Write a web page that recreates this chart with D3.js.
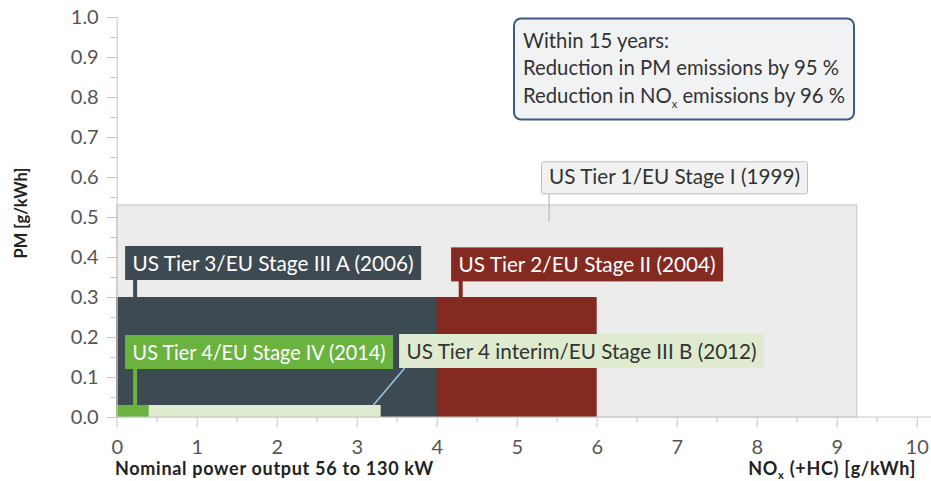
<!DOCTYPE html>
<html>
<head>
<meta charset="utf-8">
<script src="https://cdn.jsdelivr.net/npm/d3@7"></script>
<style>
  body { margin: 0; background: #fff; }
  svg { display: block; }
</style>
</head>
<body>
<svg id="chart" width="931" height="481"></svg>
<script>
// emission limits, 56-130 kW
let stages = ['US Tier 1/EU Stage I (1999)', 'US Tier 2/EU Stage II (2004)', 'US Tier 3/EU Stage III A (2006)',
              'US Tier 4 interim/EU Stage III B (2012)', 'US Tier 4/EU Stage IV (2014)'];
let noxLimit = [9.25, 6.0, 4.0, 3.3, 0.4];
let pmLimit = [0.53, 0.3, 0.3, 0.03, 0.03];
let xTicks = [0, 1, 2, 3, 4, 5, 6, 7, 8, 9, 10];
let yTicks = [0, 0.1, 0.2, 0.3, 0.4, 0.5, 0.6, 0.7, 0.8, 0.9, 1.0];

// look + where the labels sit (in data units)
let fills = ['#ececec', '#842a20', '#3e4a52', '#deebcf', '#6ab33e'];
let strokes = ['#c6c6c6', 'none', 'none', 'none', 'none'];
let labelFill = ['#f1f1f1', '#842a20', '#3e4a52', '#deebcf', '#6ab33e'];
let labelText = ['#333', '#fff', '#fff', '#333', '#fff'];
let labelPos = [[5.31, 0.638], [4.18, 0.424], [0.105, 0.4275], [3.53, 0.2075], [0.105, 0.205]];
let labelWidth = [251, 257, 281, 350, 253];
let leader = [[5.405, 0.638, 5.405, 0.488], [4.3, 0.42, 4.3, 0.3], [0.23, 0.42, 0.23, 0.3],
              [3.6, 0.1225, 3.21, 0.03], [0.23, 0.2, 0.23, 0.03]];

const svg = d3.select('#chart');
const font = 'Lato, "Noto Sans", sans-serif';

const x = d3.scaleLinear().domain([0, 10]).range([116.7, 916.7]);
const y = d3.scaleLinear().domain([0, 1]).range([417, 17]);

// rectangles
svg.append('g')
  .selectAll('rect')
  .data(stages)
  .join('rect')
  .attr('x', x(0))
  .attr('y', (d, i) => y(pmLimit[i]))
  .attr('width', (d, i) => x(noxLimit[i]) - x(0))
  .attr('height', (d, i) => y(0) - y(pmLimit[i]))
  .attr('fill', (d, i) => fills[i])
  .attr('stroke', (d, i) => strokes[i])
  .attr('stroke-width', 1);

// y axis
const yAxis = svg.append('g')
  .attr('transform', `translate(${x(0)},0)`)
  .call(d3.axisLeft(y).tickValues(yTicks).tickFormat(d3.format('.1f')).tickSize(10).tickPadding(8));
svg.append('g')
  .attr('transform', `translate(${x(0)},0)`)
  .call(d3.axisLeft(y).tickValues(d3.range(0.05, 1, 0.1)).tickFormat('').tickSize(6))
  .select('.domain').remove();

// x axis
const xAxis = svg.append('g')
  .attr('transform', `translate(0,${y(0)})`)
  .call(d3.axisBottom(x).tickValues(xTicks).tickFormat(d3.format('d')).tickSize(10).tickPadding(13));
svg.append('g')
  .attr('transform', `translate(0,${y(0)})`)
  .call(d3.axisBottom(x).tickValues(d3.range(0.5, 10, 1)).tickFormat('').tickSize(5))
  .select('.domain').remove();
xAxis.select('.domain').remove();
svg.append('line')
  .attr('x1', x(0)).attr('x2', 931)
  .attr('y1', y(0)).attr('y2', y(0))
  .attr('stroke', '#c8c8c8');

svg.selectAll('.tick line').attr('stroke', '#c4c4c4');
yAxis.select('.domain').attr('stroke', '#c8c8c8');
svg.selectAll('.tick text')
  .style('font-family', font)
  .style('font-size', '20px')
  .attr('fill', '#555');

// leader lines
leader.forEach((l, i) => {
  svg.append('line')
    .attr('x1', x(l[0])).attr('y1', y(l[1]))
    .attr('x2', x(l[2])).attr('y2', y(l[3]))
    .attr('stroke', i == 0 ? '#b0b0b0' : i == 3 ? '#9cc8e2' : fills[i])
    .attr('stroke-width', i == 0 ? 1 : i == 3 ? 1.5 : 4);
});

// stage labels
stages.forEach((s, i) => {
  const g = svg.append('g');
  const h = i == 0 ? 32 : 34;
  const bx = x(labelPos[i][0]), by = y(labelPos[i][1]);
  g.append('rect')
    .attr('x', bx).attr('y', by)
    .attr('width', labelWidth[i] + 15)
    .attr('height', h)
    .attr('rx', i == 0 ? 2 : 0)
    .attr('fill', labelFill[i])
    .attr('stroke', i == 0 ? '#bdbdbd' : 'none');
  g.append('text')
    .attr('x', bx + 7.5).attr('y', by + h - 9.5)
    .attr('textLength', labelWidth[i])
    .attr('lengthAdjust', 'spacingAndGlyphs')
    .style('font-family', font)
    .style('font-size', '20.4px')
    .attr('fill', labelText[i])
    .text(s);
});

// info box
svg.append('rect')
  .attr('x', 514).attr('y', 18.5)
  .attr('width', 340).attr('height', 101)
  .attr('rx', 7)
  .attr('fill', '#f1f2f4')
  .attr('stroke', '#3d5b82')
  .attr('stroke-width', 2);
const info = svg.append('text')
  .attr('x', 523)
  .style('font-family', font)
  .style('font-size', '20.3px')
  .attr('fill', '#333');
info.append('tspan').attr('x', 523).attr('y', 47.5).text('Within 15 years:');
info.append('tspan').attr('x', 523).attr('y', 75).text('Reduction in PM emissions by 95 %');
info.append('tspan').attr('x', 523).attr('y', 102.5).text('Reduction in NO');
info.append('tspan').attr('dy', 5).style('font-size', '11px').text('x');
info.append('tspan').attr('dy', -5).text(' emissions by 96 %');

// axis titles
svg.append('text')
  .attr('transform', `translate(27,213) rotate(-90)`)
  .attr('text-anchor', 'middle')
  .style('font-family', font)
  .style('font-size', '16.5px')
  .style('font-weight', 'bold')
  .attr('fill', '#222')
  .text('PM [g/kWh]');

svg.append('text')
  .attr('x', 115).attr('y', 475)
  .style('font-family', font)
  .style('font-size', '18px')
  .style('letter-spacing', '0.7px')
  .style('font-weight', 'bold')
  .attr('fill', '#222')
  .text('Nominal power output 56 to 130 kW');

const nx = svg.append('text')
  .attr('x', 916).attr('y', 475)
  .attr('text-anchor', 'end')
  .style('font-family', font)
  .style('font-size', '18px')
  .style('letter-spacing', '0.7px')
  .style('font-weight', 'bold')
  .attr('fill', '#222');
nx.append('tspan').text('NO');
nx.append('tspan').attr('dy', 4).style('font-size', '11px').text('x');
nx.append('tspan').attr('dy', -4).text(' (+HC) [g/kWh]');
</script>
</body>
</html>
